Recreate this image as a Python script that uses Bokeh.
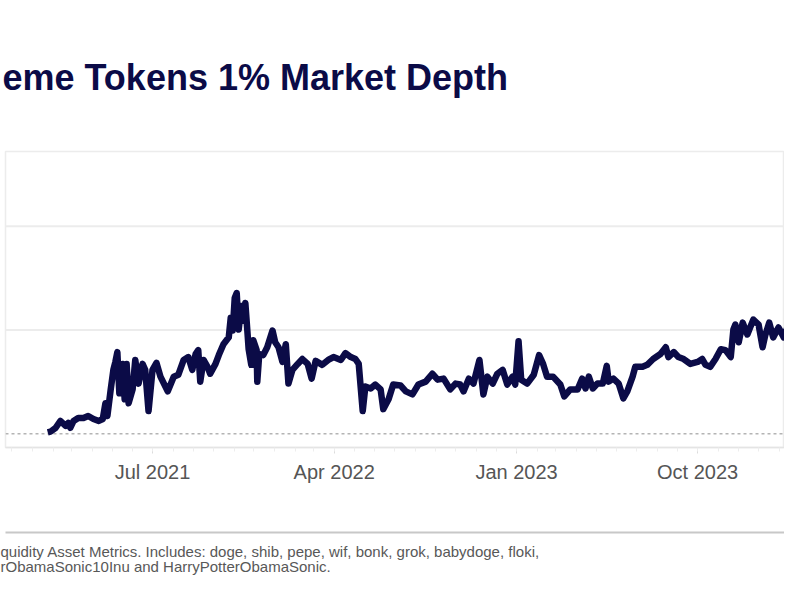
import pandas as pd
from bokeh.plotting import figure
from bokeh.models import Range1d, Span, Title, FixedTicker, ColumnDataSource, LinearAxis
from bokeh.embed import file_html
from bokeh.resources import INLINE

# ---- data (USD millions, approx.) ----
dates = [
    "2021-01-24", "2021-01-28", "2021-02-05", "2021-02-12", "2021-02-20", "2021-02-24", "2021-02-27",
    "2021-03-04", "2021-03-11", "2021-03-19", "2021-03-26", "2021-04-03", "2021-04-11", "2021-04-17",
    "2021-04-21", "2021-04-24", "2021-04-29", "2021-05-03", "2021-05-06", "2021-05-09", "2021-05-12",
    "2021-05-17", "2021-05-20", "2021-05-23", "2021-05-26", "2021-06-01", "2021-06-05", "2021-06-10",
    "2021-06-16", "2021-06-20", "2021-06-25", "2021-07-01", "2021-07-07", "2021-07-13", "2021-07-24",
    "2021-08-02", "2021-08-09", "2021-08-17", "2021-08-24", "2021-08-30", "2021-09-04", "2021-09-08",
    "2021-09-11", "2021-09-16", "2021-09-22", "2021-09-26", "2021-10-04", "2021-10-09", "2021-10-16",
    "2021-10-24", "2021-10-27", "2021-10-30", "2021-11-02", "2021-11-05", "2021-11-08", "2021-11-12",
    "2021-11-15", "2021-11-18", "2021-11-21", "2021-11-23", "2021-11-27", "2021-11-30", "2021-12-05",
    "2021-12-06", "2021-12-09", "2021-12-15", "2021-12-21", "2021-12-29", "2022-01-02", "2022-01-07",
    "2022-01-13", "2022-01-18", "2022-01-22", "2022-01-28", "2022-02-05", "2022-02-12", "2022-02-20",
    "2022-02-26", "2022-03-04", "2022-03-14", "2022-03-23", "2022-03-31", "2022-04-11", "2022-04-18",
    "2022-04-26", "2022-05-03", "2022-05-08", "2022-05-14", "2022-05-18", "2022-05-26", "2022-06-02",
    "2022-06-10", "2022-06-14", "2022-06-22", "2022-06-29", "2022-07-10", "2022-07-18", "2022-07-28",
    "2022-08-06", "2022-08-17", "2022-08-27", "2022-09-04", "2022-09-13", "2022-09-23", "2022-10-01",
    "2022-10-08", "2022-10-13", "2022-10-21", "2022-10-28", "2022-11-06", "2022-11-12", "2022-11-18",
    "2022-11-26", "2022-12-03", "2022-12-11", "2022-12-18", "2022-12-26", "2022-12-30", "2023-01-04",
    "2023-01-08", "2023-01-17", "2023-01-27", "2023-02-04", "2023-02-10", "2023-02-16", "2023-02-25",
    "2023-03-08", "2023-03-14", "2023-03-23", "2023-04-03", "2023-04-10", "2023-04-15", "2023-04-20",
    "2023-04-26", "2023-05-03", "2023-05-11", "2023-05-17", "2023-05-20", "2023-05-27", "2023-06-04",
    "2023-06-11", "2023-06-17", "2023-06-25", "2023-06-29", "2023-07-10", "2023-07-17", "2023-07-26",
    "2023-08-06", "2023-08-14", "2023-08-18", "2023-08-26", "2023-09-02", "2023-09-10", "2023-09-20",
    "2023-10-01", "2023-10-08", "2023-10-13", "2023-10-20", "2023-10-28", "2023-11-05", "2023-11-12",
    "2023-11-20", "2023-11-24", "2023-11-27", "2023-12-02", "2023-12-08", "2023-12-15", "2023-12-24",
    "2024-01-01", "2024-01-07", "2024-01-11", "2024-01-17", "2024-01-23", "2024-01-31", "2024-02-08",
    "2024-02-15", "2024-02-23", "2024-02-29", "2024-03-03",
]
depth = [
    1.2, 1.9, 5.7, 12.3, 7.6, 10.4, 5.7,
    12.3, 15.2, 15.2, 17.1, 14.2, 12.3, 14.2,
    29.4, 17.1, 42.7, 61.6, 69.2, 78.7, 38.9,
    67.3, 33.2, 67.3, 29.4, 42.7, 71.1, 48.3,
    67.3, 61.6, 21.8, 61.6, 68.3, 55.0, 40.8,
    55.0, 56.9, 71.1, 73.9, 61.6, 76.8, 80.6,
    50.2, 71.1, 64.5, 57.8, 67.3, 75.8, 86.3,
    92.9, 111.9, 99.5, 130.8, 135.6, 100.5, 123.2,
    109.0, 126.1, 99.5, 81.5, 66.4, 90.1, 80.6,
    50.2, 76.8, 75.8, 83.4, 99.5, 88.2, 83.4,
    69.2, 86.3, 48.3, 61.6, 67.3, 72.0, 67.3,
    53.1, 70.2, 66.4, 71.1, 73.9, 71.1, 77.7,
    73.9, 72.0, 67.3, 21.8, 45.5, 43.6, 47.4,
    42.7, 23.7, 33.2, 47.4, 46.5, 40.8, 37.9,
    47.4, 50.2, 57.8, 52.1, 53.1, 42.7, 48.3,
    47.4, 40.8, 53.1, 48.3, 71.1, 37.9, 55.0,
    48.3, 57.8, 61.6, 47.4, 55.0, 47.4, 89.1,
    52.1, 48.3, 56.9, 75.8, 67.3, 55.0, 55.0,
    47.4, 36.0, 42.7, 42.7, 53.1, 43.6, 55.0,
    43.6, 48.3, 48.3, 65.4, 50.2, 53.1, 48.3,
    34.1, 40.8, 55.0, 64.5, 64.5, 66.4, 72.0,
    76.8, 83.4, 73.9, 78.7, 73.9, 72.0, 67.3,
    69.2, 72.0, 66.4, 64.5, 72.0, 81.5, 80.6,
    73.9, 100.5, 105.2, 88.2, 107.1, 95.7, 110.0,
    105.2, 83.4, 94.8, 107.1, 92.9, 102.4, 92.9,
    105.2, 100.5, 90.1, 128.0,
]

tick_dates = ["2021-07-01", "2022-04-01", "2023-01-01", "2023-10-01"]
tick_labels = ["Jul 2021", "Apr 2022", "Jan 2023", "Oct 2023"]
grid_values = [100, 200]
zero_value = 0

title_text = "eme Tokens 1% Market Depth"
footer_lines = [
    "quidity Asset Metrics. Includes:  doge, shib, pepe, wif, bonk, grok, babydoge, floki,",
    "rObamaSonic10Inu and HarryPotterObamaSonic.",
]

# ---- layout (canvas pixels) ----
W, H = 784, 584
F_LEFT, F_TOP, F_BOTTOM = 5, 151, 452
Y_LO, Y_HI = -13.3, 272.1

anchor = pd.Timestamp("2021-07-01")
PX_DAYS = 1.508
x_start = anchor + pd.Timedelta(days=(F_LEFT - 152) * PX_DAYS)
x_end = anchor + pd.Timedelta(days=(W - 152) * PX_DAYS)

p = figure(width=W, height=H, x_axis_type="datetime", y_axis_location=None,
           output_backend="svg", toolbar_location=None,
           x_range=Range1d(x_start, x_end), y_range=Range1d(Y_LO, Y_HI),
           min_border_left=F_LEFT, min_border_right=0,
           min_border_top=F_TOP, min_border_bottom=H - F_BOTTOM)
p.background_fill_color = "white"
p.border_fill_color = "white"
p.outline_line_color = "#ececec"
p.outline_line_width = 1.5
p.xgrid.visible = False
p.ygrid.visible = False

# title
p.title.text = title_text
p.title.align = "left"
p.title.offset = -3
p.title.standoff = 108
p.title.text_font = "Liberation Sans"
p.title.text_font_size = "36px"
p.title.text_font_style = "bold"
p.title.text_color = "#0b0b47"

for gv in grid_values:
    p.add_layout(Span(location=gv, dimension="width", line_color="#ececec",
                      line_width=2, level="underlay"))
p.add_layout(Span(location=zero_value, dimension="width", line_color="#b4b4b4",
                  line_width=1.5, line_dash="3 3", level="underlay"))

src = ColumnDataSource(dict(x=pd.to_datetime(dates), y=depth))
p.line("x", "y", source=src, line_color="#0b0b47", line_width=6.5, line_join="round")

tick_ms = [pd.Timestamp(d).value / 1e6 for d in tick_dates]
month_ms = [t.value / 1e6 for t in pd.date_range("2020-12-01", "2024-03-01", freq="MS")]
xa = p.xaxis[0]
xa.ticker = FixedTicker(ticks=tick_ms, minor_ticks=month_ms)
xa.major_label_overrides = {t: l for t, l in zip(tick_ms, tick_labels)}
xa.axis_line_color = "#e4e4e4"
xa.axis_line_width = 1.5
xa.major_tick_line_color = "#dcdcdc"
xa.major_tick_in = 0
xa.major_tick_out = 6
xa.minor_tick_line_color = "#ededed"
xa.minor_tick_in = 0
xa.minor_tick_out = 4
xa.major_label_text_font = "Liberation Sans"
xa.major_label_text_font_size = "20px"
xa.major_label_text_color = "#555555"
xa.major_label_standoff = 7
# blank axis label only reserves the space above the footer rule
xa.axis_label = " "
xa.axis_label_text_font_size = "20px"
xa.axis_label_standoff = 22

# footer rule: a bare axis line below the date axis
rule = LinearAxis(ticker=FixedTicker(ticks=[]), axis_line_color="#c8c8c8", axis_line_width=2,
                  major_tick_line_color=None, minor_tick_line_color=None,
                  major_label_text_font_size="1px", major_label_standoff=0)
p.add_layout(rule, "below")

p.add_layout(Title(text="\n".join(footer_lines), align="left", offset=-5, standoff=18,
                   vertical_align="bottom",
                   text_font="Liberation Sans", text_font_size="15px", text_line_height=0.9,
                   text_font_style="normal", text_color="#585858"), "below")

open("out.html", "w").write(file_html(p, INLINE))
